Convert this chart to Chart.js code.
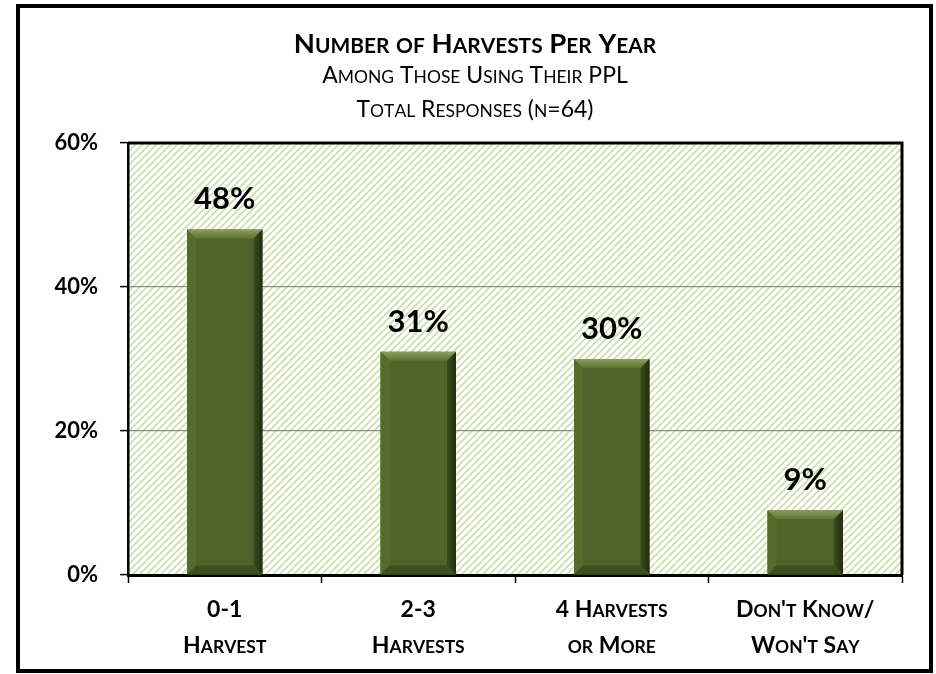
<!DOCTYPE html>
<html>
<head>
<meta charset="utf-8">
<script src="https://cdn.jsdelivr.net/npm/chart.js@4.4.0/dist/chart.umd.min.js"></script>
<style>
  body { margin: 0; background: #fff; }
</style>
</head>
<body>
<canvas id="graficoColheitas" width="936" height="674"></canvas>
<script>
// Dados do gráfico
const categorias = [['0-1', 'Harvest'], ['2-3', 'Harvests'], ['4 Harvests', 'or More'], ["Don't Know/", "Won't Say"]];
const valores = [48, 31, 30, 9];
const ticksY = [0, 20, 40, 60];
const titulo = 'Number of Harvests Per Year';
const subtitulos = ['Among Those Using Their PPL', 'Total Responses (n=64)'];

const fonte = 'Lato, "DejaVu Sans", sans-serif';

// Texto em versalete (small caps) desenhado letra a letra, centralizado em x
function versalete(ctx, texto, x, y, tam, peso, fator) {
  const partes = [...texto].map(c => {
    const minuscula = c !== c.toUpperCase();
    return { c: c.toUpperCase(), font: `${peso} ${minuscula ? tam * fator : tam}px ${fonte}` };
  });
  let largura = 0;
  partes.forEach(p => { ctx.font = p.font; p.w = ctx.measureText(p.c).width; largura += p.w; });
  let px = x - largura / 2;
  ctx.textAlign = 'left';
  partes.forEach(p => { ctx.font = p.font; ctx.fillText(p.c, px, y); px += p.w; });
}

// Padrão de listras diagonais para o fundo da área do gráfico
function criarPadrao(ctx) {
  const tile = document.createElement('canvas');
  tile.width = 7;
  tile.height = 7;
  const t = tile.getContext('2d');
  t.fillStyle = '#ffffff';
  t.fillRect(0, 0, 7, 7);
  t.strokeStyle = '#cddcab';
  t.lineWidth = 1.6;
  t.beginPath();
  t.moveTo(-1, 8); t.lineTo(8, -1);
  t.moveTo(-1, 1); t.lineTo(1, -1);
  t.moveTo(6, 8); t.lineTo(8, 6);
  t.stroke();
  return ctx.createPattern(tile, 'repeat');
}

const pluginFundo = {
  id: 'fundo',
  beforeDraw(chart) {
    const { ctx, chartArea: a } = chart;
    ctx.save();
    ctx.fillStyle = '#fff';
    ctx.fillRect(0, 0, chart.width, chart.height);
    ctx.fillStyle = criarPadrao(ctx);
    ctx.fillRect(a.left, a.top, a.right - a.left, a.bottom - a.top);
    ctx.restore();
  }
};

// Efeito de chanfro nas barras
const pluginChanfro = {
  id: 'chanfro',
  afterDatasetsDraw(chart) {
    const { ctx, chartArea: a } = chart;
    const b = 9;
    chart.getDatasetMeta(0).data.forEach(bar => {
      const l = bar.x - bar.width / 2, r = bar.x + bar.width / 2;
      const t = bar.y, f = bar.base;
      const poly = (pts, cor) => {
        ctx.beginPath();
        ctx.moveTo(pts[0][0], pts[0][1]);
        pts.slice(1).forEach(p => ctx.lineTo(p[0], p[1]));
        ctx.closePath();
        ctx.fillStyle = cor;
        ctx.fill();
      };
      ctx.save();
      const gTopo = ctx.createLinearGradient(0, t, 0, t + b);
      gTopo.addColorStop(0, '#8a9d5c');
      gTopo.addColorStop(1, '#5d7432');
      poly([[l, t], [r, t], [r - b, t + b], [l + b, t + b]], gTopo);
      poly([[l, t], [l + b, t + b], [l + b, f - b], [l, f]], '#566c2d');
      const gDir = ctx.createLinearGradient(r - b, 0, r, 0);
      gDir.addColorStop(0, '#3c4c1c');
      gDir.addColorStop(1, '#222c0e');
      poly([[r, t], [r, f], [r - b, f - b], [r - b, t + b]], gDir);
      poly([[l, f], [l + b, f - b], [r - b, f - b], [r, f]], '#3e4f1f');
      ctx.restore();
    });
    // borda superior e direita da área do gráfico
    ctx.save();
    ctx.strokeStyle = '#000';
    ctx.lineWidth = 3;
    ctx.beginPath();
    ctx.moveTo(a.left, a.top);
    ctx.lineTo(a.right, a.top);
    ctx.lineTo(a.right, a.bottom);
    ctx.stroke();
    ctx.restore();
  }
};

// Rótulos de valor, rótulos das categorias, títulos e moldura
const pluginTextos = {
  id: 'textos',
  afterDraw(chart) {
    const { ctx } = chart;
    const escalaX = chart.scales.x;
    ctx.save();
    ctx.fillStyle = '#000';
    ctx.textAlign = 'center';
    ctx.textBaseline = 'alphabetic';
    ctx.font = 'bold 31px ' + fonte;
    chart.getDatasetMeta(0).data.forEach((bar, i) => {
      ctx.fillText(valores[i] + '%', bar.x, bar.y - 20);
    });
    categorias.forEach((linhas, i) => {
      const x = escalaX.getPixelForTick(i);
      linhas.forEach((linha, j) => {
        versalete(ctx, linha, x, escalaX.bottom - 99 + 42 + j * 36, 23, 'bold', 0.76);
      });
    });
    const cx = 475;
    versalete(ctx, titulo, cx, 53, 27.5, 'bold', 0.76);
    versalete(ctx, subtitulos[0], cx, 83, 23, 'normal', 0.76);
    versalete(ctx, subtitulos[1], cx, 117, 23, 'normal', 0.76);
    ctx.strokeStyle = '#000';
    ctx.lineWidth = 4;
    ctx.strokeRect(18, 6, 913, 665);
    ctx.restore();
  }
};

new Chart(document.getElementById('graficoColheitas').getContext('2d'), {
  type: 'bar',
  data: {
    labels: categorias,
    datasets: [{
      data: valores,
      backgroundColor: '#4f6428',
      borderWidth: 0,
      categoryPercentage: 1,
      barPercentage: 0.39
    }]
  },
  options: {
    responsive: false,
    animation: false,
    layout: { padding: { left: 0, top: 143, right: 34, bottom: 0 } },
    plugins: {
      legend: { display: false },
      tooltip: { enabled: false }
    },
    scales: {
      x: {
        afterFit: scale => { scale.height = 99; },
        grid: { drawOnChartArea: false, tickLength: 8, tickColor: '#000', tickWidth: 1.5 },
        border: { color: '#000', width: 3 },
        ticks: { display: false }
      },
      y: {
        min: 0,
        max: 60,
        afterFit: scale => { scale.width = 128; },
        afterBuildTicks: scale => { scale.ticks = ticksY.map(v => ({ value: v })); },
        grid: { color: '#8c8c8c', lineWidth: 1.2, tickLength: 8, tickColor: '#000', tickWidth: 1.5 },
        border: { color: '#000', width: 2.5 },
        ticks: {
          color: '#000',
          padding: 22,
          font: { family: fonte, size: 22, weight: 'bold' },
          callback: v => v + '%'
        }
      }
    }
  },
  plugins: [pluginFundo, pluginChanfro, pluginTextos]
});
</script>
</body>
</html>
